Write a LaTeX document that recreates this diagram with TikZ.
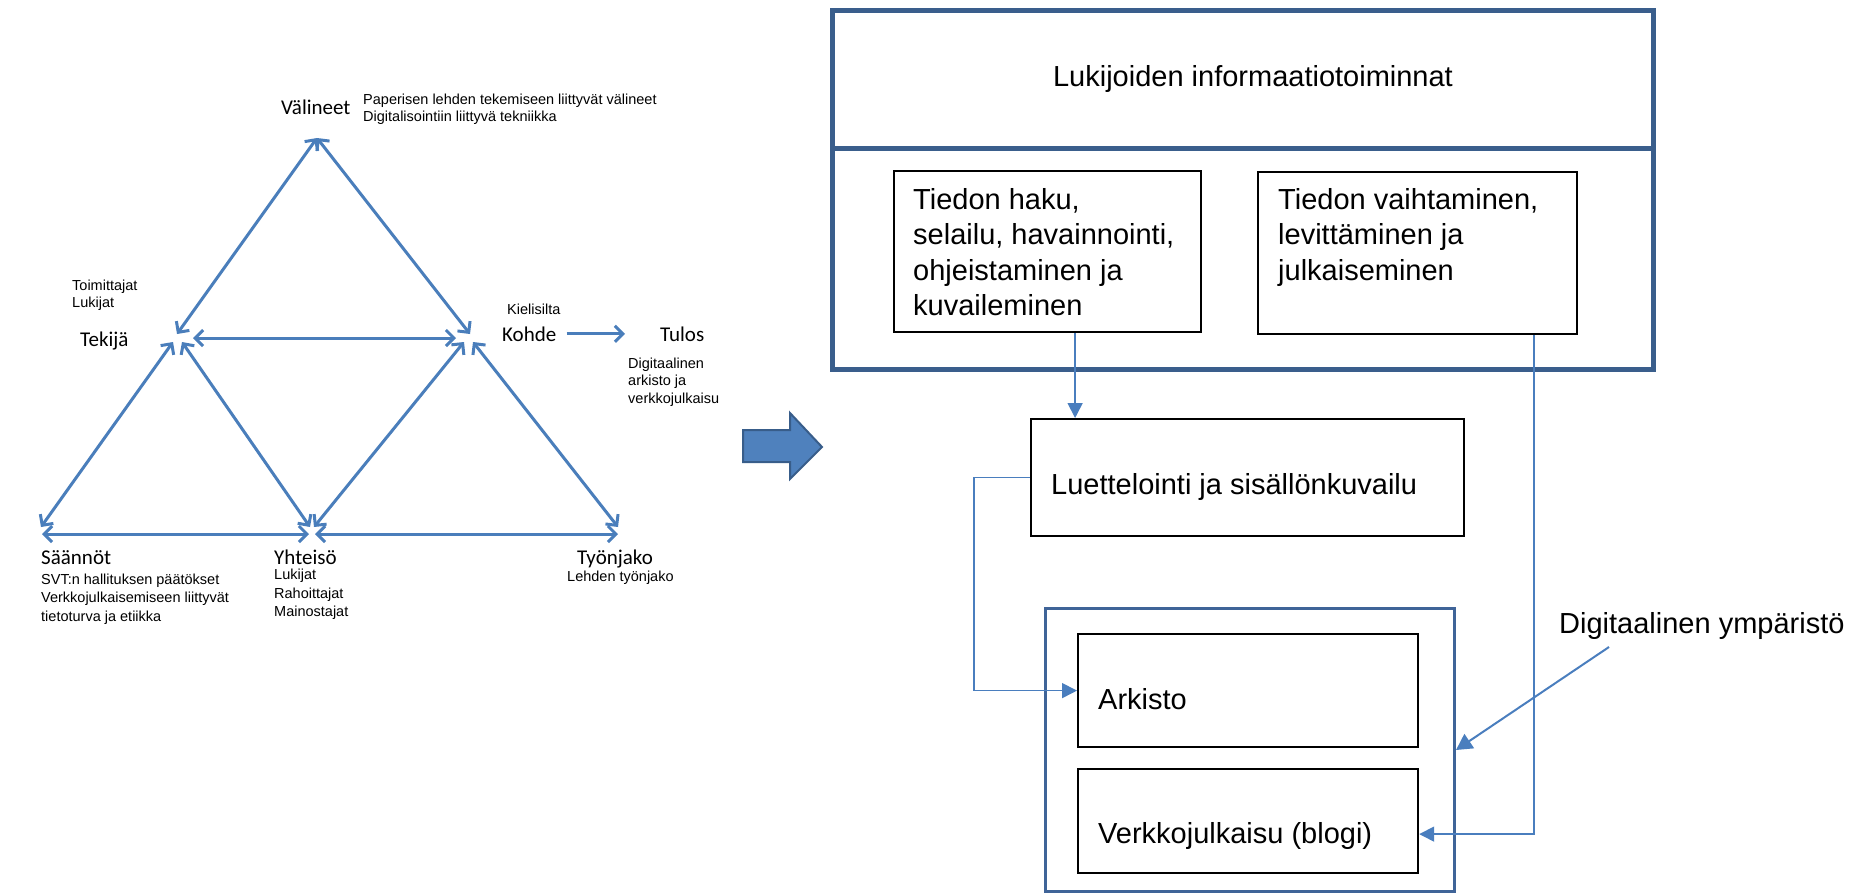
\documentclass[tikz,border=0pt]{standalone}
\usepackage{fontspec}
\setmainfont{Liberation Sans}
\newfontfamily\calfont{Carlito}
\usetikzlibrary{arrows.meta,calc}
\definecolor{triblue}{RGB}{74,126,187}
\definecolor{connblue}{RGB}{74,126,190}
\definecolor{frameblue}{RGB}{58,94,140}
\definecolor{boxdblue}{RGB}{63,100,152}
\definecolor{arrowfill}{RGB}{79,129,189}
\definecolor{arrowedge}{RGB}{56,93,138}
\begin{document}
\begin{tikzpicture}[x=1pt,y=-1pt,
  barb/.tip={Straight Barb[length=8pt,width=16pt]},
  tri/.style={draw=triblue,line width=3pt,barb-barb},
  trione/.style={draw=triblue,line width=3pt,-barb},
  lbl/.style={inner sep=0pt,anchor=base west,font=\calfont\fontsize{21pt}{24pt}\selectfont},
  small/.style={inner sep=0pt,align=left,font=\fontsize{14.5pt}{18.5pt}\selectfont},
  big/.style={inner sep=0pt,align=left,font=\fontsize{29pt}{35.5pt}\selectfont},
  frame/.style={draw=frameblue,line width=4.5pt,inner sep=0pt,anchor=north west},
  framed/.style={draw=boxdblue,line width=3pt,inner sep=0pt,anchor=north west},
  inbox/.style={draw=black,line width=2.2pt,inner sep=0pt,anchor=north west},
  conn/.style={draw=connblue,line width=1.6pt,-{Triangle[length=15pt,width=15pt]}},
]
\useasboundingbox (0,0) rectangle (1860,892);

% ---------- left: activity triangle ----------
\coordinate (vA) at (317,138);
\coordinate (tU) at (177,334);
\coordinate (tL) at (173,342);
\coordinate (tR) at (182,342);
\coordinate (tH) at (193,338);
\coordinate (kU) at (470,334);
\coordinate (kL) at (464,342);
\coordinate (kR) at (473,342);
\coordinate (kH) at (456,338);
\coordinate (sD) at (41,527);
\coordinate (sH) at (42,534);
\coordinate (yL) at (310,527);
\coordinate (yR) at (314,527);
\coordinate (yHl) at (309,534);
\coordinate (yHr) at (315,534);
\coordinate (wD) at (618,527);
\coordinate (wH) at (618,534);

\draw[tri] (tU) -- (vA);
\draw[tri] (vA) -- (kU);
\draw[tri] (tH) -- (kH);
\draw[tri] (sD) -- (tL);
\draw[tri] (tR) -- (yL);
\draw[tri] (yR) -- (kL);
\draw[tri] (kR) -- (wD);
\draw[tri] (sH) -- (yHl);
\draw[tri] (yHr) -- (wH);

\node[lbl] (valineet) at (281,114) {Välineet};
\node[small,anchor=north west,font=\fontsize{14.5pt}{17.5pt}\selectfont] (valtxt) at (363,93.5) {Paperisen lehden tekemiseen liittyvät välineet\\Digitalisointiin liittyvä tekniikka};
\node[small,anchor=north west,font=\fontsize{14.5pt}{17.5pt}\selectfont] (toim) at (72,279.6) {Toimittajat\\Lukijat};
\node[lbl] (tekija) at (80,346) {Tekijä};
\node[small,anchor=base west] (kieli) at (507,314) {Kielisilta};
\node[lbl] (kohde) at (502,341) {Kohde};
\node[lbl] (tulos) at (660,341) {Tulos};
\draw[trione,shorten <=10pt,shorten >=35pt] (kohde.east) -- (kohde.east -| tulos.west);
\node[small,anchor=north west,font=\fontsize{14.5pt}{17.5pt}\selectfont] (tultxt) at (628,357.6) {Digitaalinen\\arkisto ja\\verkkojulkaisu};
\node[lbl] (saannot) at (41,564) {Säännöt};
\node[small,anchor=north west] (saantxt) at (41,573.6) {SVT:n hallituksen päätökset\\Verkkojulkaisemiseen liittyvät\\tietoturva ja etiikka};
\node[lbl] (yhteiso) at (274,564) {Yhteisö};
\node[small,anchor=north west] (yhttxt) at (274,569) {Lukijat\\Rahoittajat\\Mainostajat};
\node[lbl] (tyonjako) at (577,564) {Työnjako};
\node[small,anchor=base west] (tyotxt) at (567,581) {Lehden työnjako};

% ---------- block arrow ----------
\filldraw[fill=arrowfill,draw=arrowedge,line width=2pt,line join=miter]
  (743,430) -- (790,430) -- (790,413) -- (822,447) -- (790,479) -- (790,462) -- (743,462) -- cycle;

% ---------- right: information activities ----------
\node[frame,minimum width=821pt,minimum height=138pt] (top) at (830,8) {};
\node[frame,minimum width=821pt,minimum height=221pt] (mid) at (830,146) {};
\node[big,anchor=base] (toptxt) at (1253,86) {Lukijoiden informaatiotoiminnat};

\node[inbox,minimum width=307pt,minimum height=161pt] (boxA) at (893,170) {};
\node[big,anchor=north west] (boxAtxt) at (913,188) {Tiedon haku,\\selailu, havainnointi,\\ohjeistaminen ja\\kuvaileminen};
\node[inbox,minimum width=319pt,minimum height=162pt] (boxB) at (1257,171) {};
\node[big,anchor=north west] (boxBtxt) at (1278,188) {Tiedon vaihtaminen,\\levittäminen ja\\julkaiseminen};

\node[inbox,minimum width=433pt,minimum height=117pt] (boxC) at (1030,418) {};
\node[big,anchor=base west] (boxCtxt) at (1051,494) {Luettelointi ja sisällönkuvailu};

\node[framed,minimum width=409pt,minimum height=283pt] (boxD) at (1044,607) {};
\node[inbox,minimum width=340pt,minimum height=113pt] (arkisto) at (1077,633) {};
\node[big,anchor=base west] (arktxt) at (1098,709) {Arkisto};
\node[inbox,minimum width=340pt,minimum height=104pt] (verkko) at (1077,768) {};
\node[big,anchor=base west] (verktxt) at (1098,843) {Verkkojulkaisu (blogi)};

\node[big,anchor=base west] (digi) at (1559,633) {Digitaalinen ympäristö};
\coordinate (digstart) at (1609,647);

\draw[conn] ([xshift=27.5pt]boxA.south) -- ([xshift=27.5pt]boxA.south |- boxC.north);
\draw[conn] (boxC.west) -- ++(-56,0) |- (arkisto.west);
\draw[conn] ([xshift=116.5pt]boxB.south) |- ([yshift=-13pt]verkko.east);
\draw[draw=connblue,line width=2pt,-{Triangle[length=16pt,width=17pt]}] (digstart) -- (boxD.east);
\end{tikzpicture}
\end{document}
